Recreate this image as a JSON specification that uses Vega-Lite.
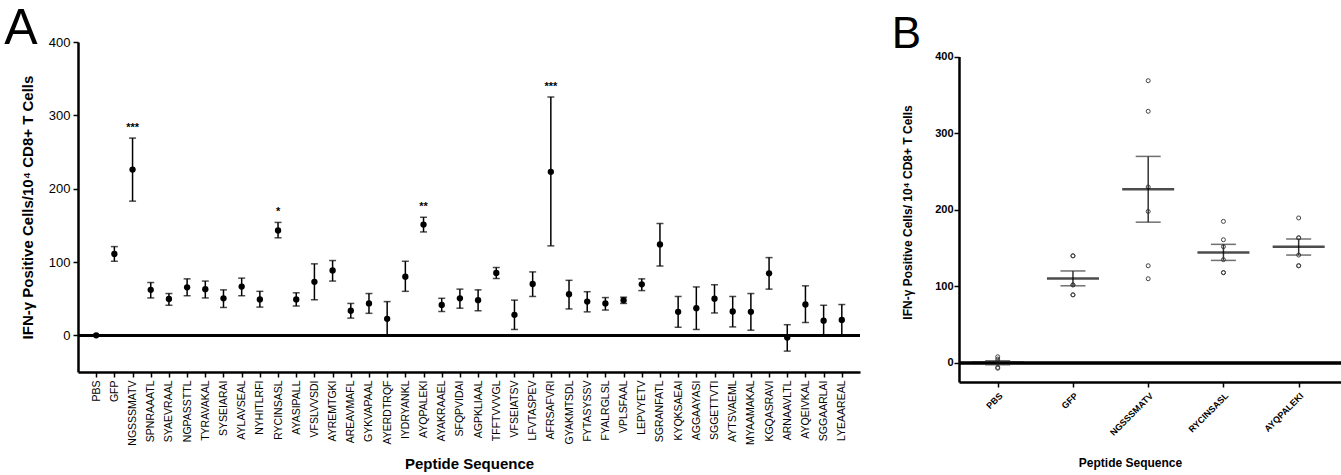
{
  "$schema": "https://vega.github.io/schema/vega-lite/v6.json",
  "padding": {"left": 4, "top": 4, "right": 0, "bottom": 0},
  "background": "white",
  "config": {
    "font": "Liberation Sans",
    "view": {"stroke": null},
    "axis": {"domainColor": "black", "tickColor": "black", "labelColor": "black", "titleColor": "black", "grid": false}
  },
  "datasets": {
    "a": [
      {"peptide": "PBS", "mean": 0, "lo": 0, "hi": 0, "sig": ""},
      {"peptide": "GFP", "mean": 111, "lo": 101, "hi": 121, "sig": ""},
      {"peptide": "NGSSSMATV", "mean": 226, "lo": 183, "hi": 269, "sig": "***"},
      {"peptide": "SPNRAAATL", "mean": 62, "lo": 51, "hi": 72, "sig": ""},
      {"peptide": "SYAEVRAAL", "mean": 49.5, "lo": 41, "hi": 57, "sig": ""},
      {"peptide": "NGPASSTTL", "mean": 65.5, "lo": 54, "hi": 77, "sig": ""},
      {"peptide": "TYRAVAKAL", "mean": 63, "lo": 51, "hi": 74, "sig": ""},
      {"peptide": "SYSEIARAI", "mean": 50.5, "lo": 38, "hi": 62, "sig": ""},
      {"peptide": "AYLAVSEAL", "mean": 66.5, "lo": 54, "hi": 78, "sig": ""},
      {"peptide": "NYHITLRFI", "mean": 49, "lo": 38.5, "hi": 60, "sig": ""},
      {"peptide": "RYCINSASL", "mean": 143, "lo": 133, "hi": 154, "sig": "*"},
      {"peptide": "AYASIPALL", "mean": 49, "lo": 40, "hi": 58, "sig": ""},
      {"peptide": "VFSLVVSDI", "mean": 73, "lo": 48.5, "hi": 97.5, "sig": ""},
      {"peptide": "AYREMTGKI", "mean": 88.5, "lo": 74, "hi": 102, "sig": ""},
      {"peptide": "AREAVMAFL", "mean": 33.5, "lo": 23.5, "hi": 43.5, "sig": ""},
      {"peptide": "GYKVAPAAL", "mean": 43.5, "lo": 30, "hi": 57, "sig": ""},
      {"peptide": "AYERDTRQF", "mean": 22.5, "lo": 0, "hi": 46, "sig": ""},
      {"peptide": "IYDRYANKL", "mean": 80, "lo": 60, "hi": 101, "sig": ""},
      {"peptide": "AYQPALEKI", "mean": 151, "lo": 141, "hi": 161, "sig": "**"},
      {"peptide": "AYAKRAAEL", "mean": 41.5, "lo": 32.5, "hi": 50.5, "sig": ""},
      {"peptide": "SFQPVIDAI", "mean": 50.5, "lo": 37, "hi": 63, "sig": ""},
      {"peptide": "AGPKLIAAL", "mean": 48, "lo": 33.5, "hi": 62, "sig": ""},
      {"peptide": "TFFTVVVGL", "mean": 85, "lo": 77.5, "hi": 92.5, "sig": ""},
      {"peptide": "VFSEIATSV", "mean": 28, "lo": 8, "hi": 48, "sig": ""},
      {"peptide": "LFVTASPEV", "mean": 70, "lo": 53, "hi": 86.5, "sig": ""},
      {"peptide": "AFRSAFVRI", "mean": 223, "lo": 122, "hi": 325, "sig": "***"},
      {"peptide": "GYAKMTSDL", "mean": 56, "lo": 36, "hi": 75, "sig": ""},
      {"peptide": "FYTASYSSV", "mean": 46, "lo": 32, "hi": 59.5, "sig": ""},
      {"peptide": "FYALRGLSL", "mean": 43.5, "lo": 34.5, "hi": 51.5, "sig": ""},
      {"peptide": "VPLSFAAL", "mean": 48, "lo": 43.5, "hi": 52, "sig": ""},
      {"peptide": "LEPVYETV", "mean": 69.5, "lo": 61, "hi": 77, "sig": ""},
      {"peptide": "SGRANFATL", "mean": 124, "lo": 94.5, "hi": 152.5, "sig": ""},
      {"peptide": "KYQKSAEAI", "mean": 32, "lo": 11, "hi": 53, "sig": ""},
      {"peptide": "AGGAAYASI", "mean": 37, "lo": 8, "hi": 66, "sig": ""},
      {"peptide": "SGGETTVTI", "mean": 50, "lo": 30.5, "hi": 69, "sig": ""},
      {"peptide": "AYTSVAEML", "mean": 32.5, "lo": 11.5, "hi": 53, "sig": ""},
      {"peptide": "MYAAMAKAL", "mean": 32, "lo": 7, "hi": 57, "sig": ""},
      {"peptide": "KGQASRAVI", "mean": 84.5, "lo": 63, "hi": 106, "sig": ""},
      {"peptide": "ARNAAVLTL", "mean": -3, "lo": -21.5, "hi": 14.5, "sig": ""},
      {"peptide": "AYQEIVKAL", "mean": 42, "lo": 17.5, "hi": 67.5, "sig": ""},
      {"peptide": "SGGAARLAI", "mean": 20, "lo": 0, "hi": 41, "sig": ""},
      {"peptide": "LYEAAREAL", "mean": 21, "lo": 0, "hi": 42, "sig": ""}
    ],
    "b": [
      {"peptide": "PBS", "value": 8}, {"peptide": "PBS", "value": 5}, {"peptide": "PBS", "value": 2},
      {"peptide": "PBS", "value": -1}, {"peptide": "PBS", "value": -6}, {"peptide": "PBS", "value": -7},
      {"peptide": "GFP", "value": 140}, {"peptide": "GFP", "value": 140}, {"peptide": "GFP", "value": 102},
      {"peptide": "GFP", "value": 102}, {"peptide": "GFP", "value": 89}, {"peptide": "GFP", "value": 89},
      {"peptide": "NGSSSMATV", "value": 369}, {"peptide": "NGSSSMATV", "value": 329}, {"peptide": "NGSSSMATV", "value": 230},
      {"peptide": "NGSSSMATV", "value": 198}, {"peptide": "NGSSSMATV", "value": 127}, {"peptide": "NGSSSMATV", "value": 110},
      {"peptide": "RYCINSASL", "value": 185}, {"peptide": "RYCINSASL", "value": 161}, {"peptide": "RYCINSASL", "value": 152},
      {"peptide": "RYCINSASL", "value": 135}, {"peptide": "RYCINSASL", "value": 118}, {"peptide": "RYCINSASL", "value": 118},
      {"peptide": "AYQPALEKI", "value": 189.5}, {"peptide": "AYQPALEKI", "value": 163.5}, {"peptide": "AYQPALEKI", "value": 163.5},
      {"peptide": "AYQPALEKI", "value": 141}, {"peptide": "AYQPALEKI", "value": 127}, {"peptide": "AYQPALEKI", "value": 127}
    ],
    "bsum": [
      {"peptide": "PBS", "mean": 0.2, "lo": -2.5, "hi": 2.9},
      {"peptide": "GFP", "mean": 110.5, "lo": 100.8, "hi": 120.2},
      {"peptide": "NGSSSMATV", "mean": 227, "lo": 184, "hi": 270},
      {"peptide": "RYCINSASL", "mean": 144.5, "lo": 134, "hi": 155},
      {"peptide": "AYQPALEKI", "mean": 152, "lo": 141, "hi": 162}
    ]
  },
  "resolve": {"scale": {"x": "independent", "y": "independent"}},
  "spacing": 29,
  "hconcat": [
    {
      "width": 782,
      "height": 330,
      "title": {"text": "A", "fontSize": 50, "fontWeight": "normal", "font": "Liberation Sans", "anchor": "start", "frame": "bounds", "dx": -16, "offset": -18, "color": "black"},
      "data": {"name": "a"},
      "layer": [
        {
          "mark": {"type": "rule", "color": "black", "strokeWidth": 2.5},
          "encoding": {"y": {"datum": 0, "type": "quantitative"}}
        },
        {
          "mark": {"type": "rule", "color": "black", "strokeWidth": 1.5},
          "encoding": {
            "x": {"field": "peptide", "type": "nominal", "sort": null, "scale": {"type": "point", "padding": 1},
              "axis": {"title": "Peptide Sequence", "labelAngle": -90, "labelFontSize": 10.5, "labelPadding": 3, "tickSize": 5, "tickWidth": 1.5, "domainWidth": 2.5, "domainColor": "black", "tickColor": "black", "labelOverlap": false, "labelBound": false, "titleFontSize": 15, "titleFontWeight": "bold", "titlePadding": 11}},
            "y": {"field": "lo", "type": "quantitative", "scale": {"domain": [-50, 400], "nice": false, "zero": false},
              "axis": {"title": "IFN-γ Positive Cells/10⁴ CD8+ T Cells", "values": [0, 100, 200, 300, 400], "labelFontSize": 13, "labelPadding": 3, "tickSize": 5, "tickWidth": 1.5, "domainWidth": 2.5, "domainColor": "black", "tickColor": "black", "titleFontSize": 15, "titleFontWeight": "bold", "titlePadding": 13}},
            "y2": {"field": "hi"}
          }
        },
        {
          "mark": {"type": "tick", "color": "black", "size": 7, "thickness": 1.5},
          "encoding": {
            "x": {"field": "peptide", "type": "nominal", "sort": null},
            "y": {"field": "lo", "type": "quantitative"}
          }
        },
        {
          "mark": {"type": "tick", "color": "black", "size": 7, "thickness": 1.5},
          "encoding": {
            "x": {"field": "peptide", "type": "nominal", "sort": null},
            "y": {"field": "hi", "type": "quantitative"}
          }
        },
        {
          "mark": {"type": "circle", "color": "black", "size": 40, "opacity": 1},
          "encoding": {
            "x": {"field": "peptide", "type": "nominal", "sort": null},
            "y": {"field": "mean", "type": "quantitative"}
          }
        },
        {
          "mark": {"type": "text", "color": "black", "fontSize": 11, "fontWeight": "bold", "baseline": "bottom", "dy": -5},
          "encoding": {
            "x": {"field": "peptide", "type": "nominal", "sort": null},
            "y": {"field": "hi", "type": "quantitative"},
            "text": {"field": "sig"}
          }
        }
      ]
    },
    {
      "width": 387,
      "height": 340,
      "title": {"text": "B", "fontSize": 44, "fontWeight": "normal", "font": "Liberation Sans", "anchor": "start", "frame": "bounds", "dx": -10, "offset": -15, "color": "black"},
      "layer": [
        {
          "data": {"name": "bsum"},
          "mark": {"type": "rule", "color": "black", "strokeWidth": 2.5},
          "encoding": {"y": {"datum": 0, "type": "quantitative"}}
        },
        {
          "data": {"name": "b"},
          "mark": {"type": "point", "shape": "circle", "filled": false, "size": 16, "stroke": "#444", "strokeWidth": 1, "opacity": 1},
          "encoding": {
            "x": {"field": "peptide", "type": "nominal", "sort": null, "scale": {"type": "point", "padding": 0.572, "align": 0.45},
              "axis": {"title": "Peptide Sequence", "titleX": 171, "labelAngle": -45, "labelFontSize": 9, "labelFontWeight": "bold", "labelPadding": 4, "tickSize": 5, "tickWidth": 1.5, "domainWidth": 2.5, "domainColor": "black", "tickColor": "black", "labelOverlap": false, "labelBound": false, "titleFontSize": 12, "titleFontWeight": "bold", "titlePadding": 20}},
            "y": {"field": "value", "type": "quantitative", "scale": {"domain": [-25, 419.6], "nice": false, "zero": false},
              "axis": {"title": "IFN-γ Positive Cells/ 10⁴ CD8+ T Cells", "values": [0, 100, 200, 300, 400], "labelFontSize": 11, "labelFontWeight": "bold", "labelPadding": 1, "tickSize": 5, "tickWidth": 1.5, "domainWidth": 2.5, "domainDash": [325.5, 60], "domainColor": "black", "tickColor": "black", "titleFontSize": 12, "titleFontWeight": "bold", "titlePadding": 20}}
          }
        },
        {
          "data": {"name": "bsum"},
          "mark": {"type": "rule", "color": "#333", "strokeWidth": 1.5},
          "encoding": {
            "x": {"field": "peptide", "type": "nominal", "sort": null},
            "y": {"field": "lo", "type": "quantitative"},
            "y2": {"field": "hi"}
          }
        },
        {
          "data": {"name": "bsum"},
          "mark": {"type": "tick", "color": "#333", "size": 25, "thickness": 1.5},
          "encoding": {
            "x": {"field": "peptide", "type": "nominal", "sort": null},
            "y": {"field": "lo", "type": "quantitative"}
          }
        },
        {
          "data": {"name": "bsum"},
          "mark": {"type": "tick", "color": "#333", "size": 25, "thickness": 1.5},
          "encoding": {
            "x": {"field": "peptide", "type": "nominal", "sort": null},
            "y": {"field": "hi", "type": "quantitative"}
          }
        },
        {
          "data": {"name": "bsum"},
          "mark": {"type": "tick", "color": "black", "size": 52, "thickness": 2.5},
          "encoding": {
            "x": {"field": "peptide", "type": "nominal", "sort": null},
            "y": {"field": "mean", "type": "quantitative"}
          }
        }
      ]
    }
  ]
}
